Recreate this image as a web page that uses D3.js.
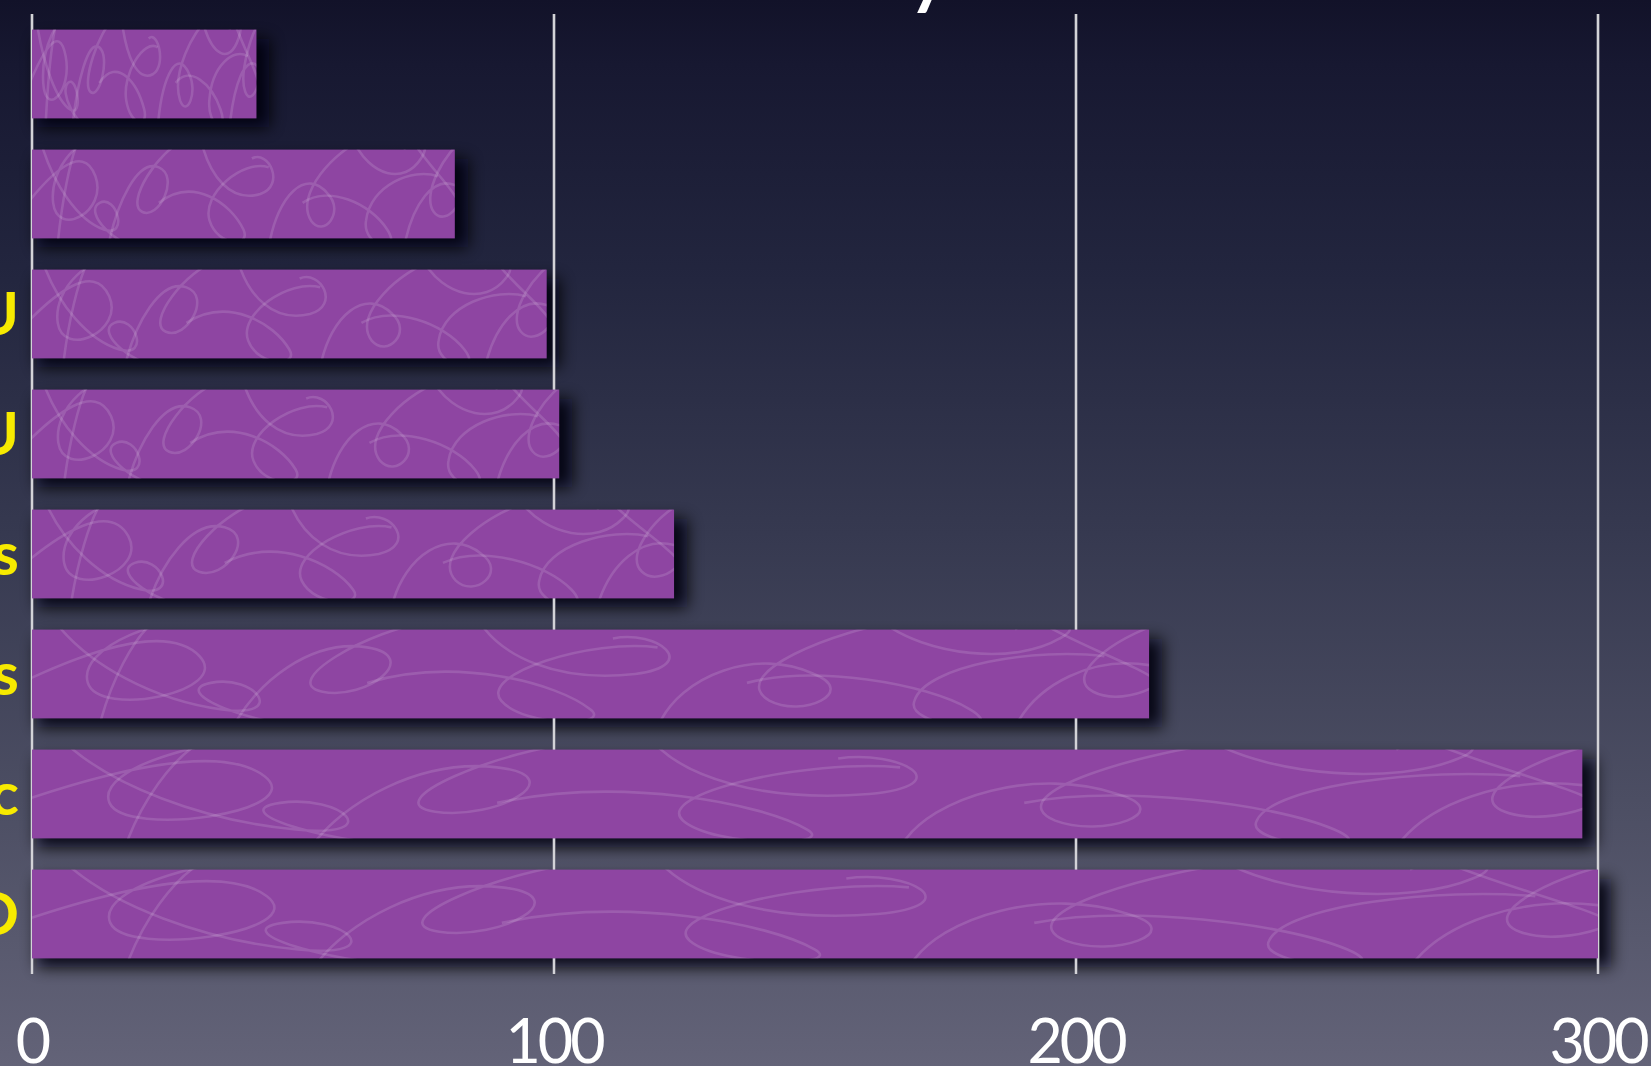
<!DOCTYPE html>
<html>
<head>
<meta charset="utf-8">
<script src="https://cdn.jsdelivr.net/npm/d3@7"></script>
<style>
  html, body { margin: 0; padding: 0; background: #1b1c34; overflow: hidden; }
  svg { display: block; }
</style>
</head>
<body>
<svg id="chart" width="1651" height="1066"></svg>
<script>
// Chart data
const categories = ["Locks", "Queues", "GPU", "CPU", "Threads", "Processes", "Sync", "I/O"];
const labels     = ["", "", "GPU", "CPU", "Threads", "Processes", "Sync", "I/O"];
const values     = [43, 81, 98.6, 101, 123, 214, 297, 300];
const tickValues = [0, 100, 200, 300];
const titleText  = "Latency";

const W = 1651, H = 1066;
const svg = d3.select("#chart");
const defs = svg.append("defs");

// Slide background: dark navy fading to slate grey
const bg = defs.append("linearGradient").attr("id", "bg")
  .attr("x1", 0).attr("y1", 0).attr("x2", 0).attr("y2", 1);
[[0, "#121229"], [0.06, "#171831"], [0.25, "#22253e"], [0.5, "#363950"],
 [0.75, "#4c4e63"], [1, "#636378"]].forEach(([o, c]) =>
  bg.append("stop").attr("offset", o).attr("stop-color", c));
svg.append("rect").attr("width", W).attr("height", H).attr("fill", "url(#bg)");

// Soft drop shadow for the bars
defs.append("filter").attr("id", "shadow")
  .attr("x", "-10%").attr("y", "-30%").attr("width", "130%").attr("height", "180%")
  .append("feGaussianBlur").attr("stdDeviation", 8);

const x = d3.scaleLinear().domain([0, 300]).range([32, 1598]);
const y = d3.scaleBand().domain(categories).range([14, 974])
  .paddingInner(0.26).paddingOuter(0.13);

const rows = categories.map((c, i) => ({ cat: c, label: labels[i], value: values[i] }));

// Title (sits mostly above the visible area)
svg.append("text")
  .attr("x", 956).attr("y", -4)
  .attr("text-anchor", "end")
  .attr("font-family", "Lato, 'Open Sans', sans-serif")
  .attr("font-size", 100)
  .attr("fill", "#ffffff")
  .text(titleText);

// Shadows
svg.append("g").selectAll("rect").data(rows).join("rect")
  .attr("x", x(0) + 5)
  .attr("y", d => y(d.cat) + 9)
  .attr("width", d => x(d.value) - x(0) + 8)
  .attr("height", y.bandwidth())
  .attr("fill", "#04050a")
  .attr("opacity", 0.9)
  .attr("filter", "url(#shadow)");

// Vertical grid lines
const grid = svg.append("g");
grid.selectAll("line").data(tickValues).join("line")
  .attr("x1", d => x(d)).attr("x2", d => x(d))
  .attr("y1", 14).attr("y2", 974)
  .attr("stroke", "#8a8a96").attr("stroke-width", 3);
grid.selectAll("line.hi").data(tickValues).join("line").attr("class", "hi")
  .attr("x1", d => x(d)).attr("x2", d => x(d))
  .attr("y1", 14).attr("y2", 974)
  .attr("stroke", "#f2f2f4").attr("stroke-width", 1.4);

// Decorative squiggle texture, defined in a 1000 x 100 box and stretched over each bar
const squiggles = [
  "M -10 60 C 40 30, 120 -10, 150 30 C 180 70, 60 100, 50 60 C 40 20, 120 -20, 170 -10",
  "M 60 110 C 70 60, 90 10, 110 -10",
  "M 20 -10 C 50 40, 110 80, 170 90 C 230 100, 200 50, 160 60 C 120 70, 200 110, 260 110",
  "M 180 110 C 200 60, 250 10, 300 20 C 350 30, 300 80, 260 70 C 220 60, 300 0, 360 -10",
  "M 300 60 C 380 30, 470 60, 500 90 C 520 110, 440 110, 420 80 C 400 50, 500 10, 560 20",
  "M 400 -10 C 420 30, 470 60, 540 50 C 600 40, 560 0, 520 10",
  "M 560 110 C 580 50, 650 20, 700 50 C 740 70, 690 100, 660 80 C 620 50, 720 0, 780 -10",
  "M 640 60 C 700 40, 800 60, 840 90 C 880 120, 780 110, 790 80 C 800 40, 900 20, 960 30",
  "M 760 -10 C 800 30, 880 40, 920 10 C 950 -10, 900 -20, 880 0",
  "M 880 110 C 900 60, 950 30, 1000 40 C 1040 50, 980 90, 950 70 C 920 50, 980 0, 1020 -10",
  "M 900 -10 C 940 20, 990 40, 1010 60"
];

const bars = svg.append("g").selectAll("g").data(rows).join("g");
bars.each(function (d, i) {
  const g = d3.select(this);
  const bx = x(0), by = y(d.cat), bw = x(d.value) - x(0), bh = y.bandwidth();
  defs.append("clipPath").attr("id", "clip" + i)
    .append("rect").attr("x", bx).attr("y", by).attr("width", bw).attr("height", bh);
  g.append("rect")
    .attr("x", bx).attr("y", by).attr("width", bw).attr("height", bh)
    .attr("fill", "#8e45a2");
  g.append("g").attr("clip-path", `url(#clip${i})`)
    .append("g")
    .attr("transform", `translate(${bx},${by}) scale(${bw / 1000},${bh / 100})`)
    .selectAll("path").data(squiggles).join("path")
    .attr("d", p => p)
    .attr("fill", "none")
    .attr("stroke", "#ffffff")
    .attr("stroke-opacity", 0.13)
    .attr("stroke-width", 2.6)
    .attr("vector-effect", "non-scaling-stroke");
});

// Category labels (right-aligned against the axis)
svg.append("g").selectAll("text").data(rows).join("text")
  .attr("x", 19)
  .attr("y", d => y(d.cat) + y.bandwidth() / 2 + 21)
  .attr("text-anchor", "end")
  .attr("font-family", "Lato, 'Open Sans', sans-serif")
  .attr("font-size", 60)
  .attr("font-weight", 700)
  .attr("fill", "#f7ea00")
  .text(d => d.label);

// Value axis tick labels
svg.append("g").selectAll("text").data(tickValues).join("text")
  .attr("x", d => x(d))
  .attr("y", 1063)
  .attr("text-anchor", "middle")
  .attr("font-family", "Lato, 'Open Sans', sans-serif")
  .attr("font-size", 61)
  .attr("letter-spacing", -3)
  .attr("fill", "#ffffff")
  .text(d => d3.format("d")(d));
</script>
</body>
</html>
